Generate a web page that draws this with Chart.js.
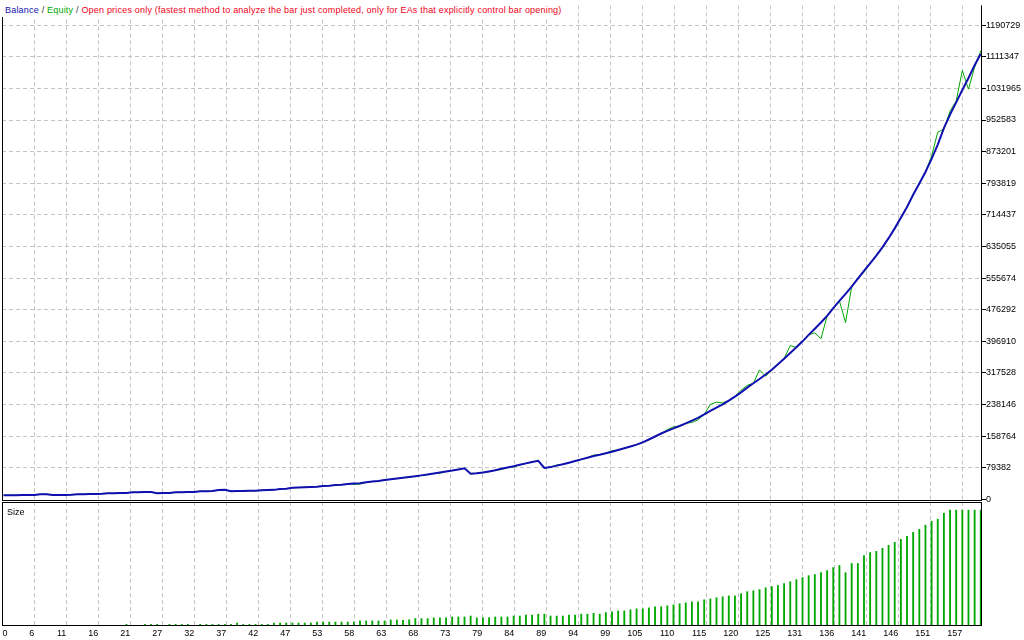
<!DOCTYPE html>
<html>
<head>
<meta charset="utf-8">
<title>Balance / Equity</title>
<script src="https://cdn.jsdelivr.net/npm/chart.js@4.4.1/dist/chart.umd.min.js"></script>
<style>
  html, body { margin: 0; padding: 0; background: #fff; }
  #wrap { position: relative; width: 1024px; height: 640px; overflow: hidden;
          font-family: "Liberation Sans", Arial, sans-serif; font-size: 9px; }
  #wrap canvas { position: absolute; left: 0; top: 0; }
  #title { position: absolute; left: 0; top: 0; height: 17px; box-sizing: border-box; letter-spacing: 0.2px;
           padding: 5px 6px 0 5px; line-height: 10px; background: #fff; white-space: nowrap; z-index: 2; }
  #sizeLabel { position: absolute; left: 7px; top: 507px; line-height: 10px; color: #000; z-index: 2; }
  .bal { color: #1010b0; } .eq { color: #00a800; } .sep { color: #333; } .mode { color: #f00020; }
</style>
</head>
<body>
<div id="wrap">
  <canvas id="balanceChart" width="1024" height="640"></canvas>
  <canvas id="sizeChart" width="1024" height="640"></canvas>
  <div id="title"><span class="bal">Balance</span><span class="sep"> / </span><span class="eq">Equity</span><span class="sep"> / </span><span class="mode">Open prices only (fastest method to analyze the bar just completed, only for EAs that explicitly control bar opening)</span></div>
  <div id="sizeLabel">Size</div>
</div>
<script>
// balance after each trade (trade 1..160)
var balance = [
  10000, 10150, 10300, 10450, 10600, 10750, 12600, 12800, 10600, 10800,
  11000, 11200, 12400, 12700, 13000, 13300, 13600, 15000, 15300, 15600,
  15900, 17400, 17700, 18000, 18300, 15300, 15600, 15900, 17600, 17900,
  18200, 18500, 20000, 20400, 20800, 23300, 23700, 20200, 20500, 20800,
  21100, 21400, 22600, 23100, 23600, 25800, 26600, 28800, 29500, 30200,
  30900, 31600, 33200, 34000, 35600, 36400, 38500, 39500, 40500, 42500,
  44500, 46000, 48500, 50200, 52000, 54000, 55800, 57800, 60000, 62300,
  64800, 67200, 69800, 72200, 75000, 77800, 64000, 65400, 67500, 70000,
  72800, 76500, 79800, 83000, 86800, 90200, 93800, 96500, 78500, 80800,
  84500, 87800, 91800, 96000, 100200, 104500, 108800, 112000, 115700, 119400,
  123600, 128000, 132600, 137200, 142900, 150100, 157600, 165100, 171600, 178000,
  184100, 190700, 197400, 204500, 213100, 222200, 229900, 238300, 247900, 258000,
  268600, 280300, 291500, 302100, 313400, 325200, 338900, 353100, 367200, 381700,
  396700, 413000, 428400, 444000, 460700, 480100, 498300, 515800, 534000, 554300,
  573800, 592500, 612000, 632600, 655800, 680400, 707000, 734000, 765000, 793000,
  822000, 855000, 891000, 932000, 966000, 997000, 1028000, 1058000, 1090000, 1119000
];

// equity at the same points
var equity = [
  10000, 10150, 10300, 10450, 10600, 10750, 12600, 12800, 10600, 10800,
  11000, 11200, 12400, 12700, 13000, 13300, 13600, 15000, 15300, 15600,
  15900, 17400, 17700, 18000, 18300, 15300, 15600, 15900, 17600, 17900,
  18200, 18500, 20000, 20400, 20800, 23300, 23700, 20200, 20500, 20800,
  21100, 21400, 22600, 23100, 23600, 25800, 26600, 28800, 29500, 30200,
  30900, 31600, 33200, 34000, 35600, 36400, 38500, 37600, 38000, 42500,
  44500, 46000, 48500, 50200, 52000, 54000, 55800, 57800, 60000, 62300,
  64800, 65500, 69800, 72200, 75000, 77800, 64000, 65400, 67500, 70000,
  72800, 74800, 79800, 81000, 86800, 90200, 93800, 96500, 78500, 80800,
  86000, 87800, 91800, 96000, 100200, 104500, 110800, 112000, 115700, 122000,
  123600, 128000, 132600, 137200, 142900, 150100, 157600, 165100, 175000, 182000,
  184100, 190700, 193000, 199500, 213100, 238000, 244000, 242000, 247900, 258000,
  274000, 286000, 291500, 325000, 309000, 325200, 338900, 353100, 386000, 381700,
  396700, 413000, 418000, 403000, 460700, 480100, 498300, 444000, 534000, 554300,
  570000, 592500, 612000, 632600, 655800, 680400, 707000, 734000, 765000, 793000,
  822000, 862000, 922000, 930000, 975000, 1000000, 1077000, 1030000, 1085000, 1126000
];

// lot size of each trade
var lotSize = [
  0.1, 0.1, 0.1, 0.1, 0.1, 0.1, 0.1, 0.1, 0.1, 0.1,
  0.1, 0.1, 0.1, 0.1, 0.1, 0.1, 0.1, 0.1, 0.1, 0.1,
  0.7, 0.2, 0.2, 0.7, 0.7, 0.7, 0.2, 0.7, 0.7, 0.7,
  0.7, 0.2, 0.7, 0.7, 0.7, 0.7, 0.7, 0.7, 1.3, 0.7,
  0.7, 0.7, 0.7, 0.7, 1.3, 1.3, 1.3, 1.3, 1.3, 1.3,
  1.3, 1.7, 1.7, 1.7, 1.7, 1.7, 1.7, 1.7, 2.2, 2.2,
  2.2, 2.2, 2.2, 2.6, 2.6, 2.5, 2.7, 3.2, 3.2, 3.2,
  3.5, 3.5, 3.5, 3.9, 3.9, 3.9, 4.3, 3.5, 3.5, 3.6,
  3.9, 3.9, 3.9, 4.3, 4.3, 4.7, 4.7, 5.1, 5.1, 4.3,
  4.3, 4.3, 4.7, 4.7, 5.1, 5.1, 5.5, 5.1, 5.8, 6.1,
  6.5, 6.5, 7.0, 7.4, 7.4, 7.8, 8.3, 8.3, 8.7, 9.1,
  9.6, 10.0, 10.4, 10.4, 11.3, 11.7, 12.2, 12.6, 13.0, 13.0,
  13.9, 14.8, 15.2, 15.7, 16.5, 17.0, 17.4, 18.3, 19.1, 20.0,
  20.9, 21.7, 22.2, 23.0, 23.9, 25.2, 26.1, 23.0, 27.0, 27.0,
  30.4, 31.7, 32.2, 33.5, 34.8, 36.1, 37.4, 38.7, 40.4, 41.7,
  43.5, 45.2, 46.1, 48.7, 50.0, 50.0, 50.0, 50.0, 50.0, 50.0
];

var xTickLabels = ['0', '6', '11', '16', '21', '27', '32', '37', '42', '47', '53', '58', '63', '68', '73',
  '79', '84', '89', '94', '99', '105', '110', '115', '120', '125', '131', '136', '141', '146', '151', '157'];
var yTickLabels = [0, 79382, 158764, 238146, 317528, 396910, 476292, 555674, 635055, 714437,
  793819, 873201, 952583, 1031965, 1111347, 1190729];

// axis ranges
var xMin = 0.75, xMax = 160.2;
var xZeroTick = 1.64, xGridStart = 6.0, xGridStep = 5.207;
var yMin = -4350, yMax = 1240450;
var sizeMax = 53.5;

var blue = '#1010b0', green = '#00a800', gridColor = '#c4c4c4';
var font = { family: '"Liberation Sans", Arial, sans-serif', size: 9 };

var trades = balance.map(function (v, i) { return i + 1; });
function points(values) {
  return values.map(function (v, i) { return { x: trades[i], y: v }; });
}

function xTickValues() {
  var vals = [xZeroTick];
  for (var k = 0; k < xTickLabels.length - 1; k++) vals.push(xGridStart + k * xGridStep);
  return vals;
}

function xAxis(showLabels) {
  return {
    type: 'linear', min: xMin, max: xMax, bounds: 'data', offset: false,
    afterBuildTicks: function (s) { s.ticks = xTickValues().map(function (v) { return { value: v }; }); },
    afterFit: function (s) { s.height = showLabels ? 14 : 0; },
    ticks: {
      display: showLabels, autoSkip: false, maxRotation: 0, align: 'end', padding: 2,
      color: '#000', font: font,
      callback: function (v, i) { return xTickLabels[i]; }
    },
    grid: {
      color: function (c) { return c.index === 0 ? 'rgba(0,0,0,0)' : gridColor; },
      drawTicks: false, offset: false
    },
    border: { display: false, dash: [4, 3] }
  };
}

// black frame round the plot area
var frame = {
  id: 'frame',
  afterDraw: function (chart, args, opts) {
    var a = chart.chartArea, c = chart.ctx;
    c.save();
    c.strokeStyle = '#000';
    c.lineWidth = 1;
    c.beginPath();
    if (opts.top) { c.moveTo(a.left, a.top + 0.5); c.lineTo(a.right, a.top + 0.5); }
    c.moveTo(a.left + 0.5, a.top); c.lineTo(a.left + 0.5, a.bottom);
    c.moveTo(a.right - 0.5, a.top); c.lineTo(a.right - 0.5, a.bottom);
    c.moveTo(a.left, a.bottom - 0.5); c.lineTo(a.right, a.bottom - 0.5);
    c.stroke();
    c.restore();
  }
};

var balanceChart = new Chart(document.getElementById('balanceChart'), {
  type: 'line',
  data: {
    datasets: [{
      label: 'Balance', data: points(balance), borderColor: blue, borderWidth: 2,
      pointRadius: 0, tension: 0, order: 0
    }, {
      label: 'Equity', data: points(equity), borderColor: green, borderWidth: 1,
      pointRadius: 0, tension: 0, order: 1
    }]
  },
  options: {
    responsive: false, animation: false, devicePixelRatio: 1,
    layout: { padding: { left: 2, top: 0, right: 0, bottom: 139 } },
    plugins: { legend: { display: false }, tooltip: { enabled: false }, frame: { top: false } },
    scales: {
      x: xAxis(false),
      y: {
        type: 'linear', position: 'right', min: yMin, max: yMax, bounds: 'data',
        afterBuildTicks: function (s) { s.ticks = yTickLabels.map(function (v) { return { value: v }; }); },
        afterFit: function (s) { s.width = 42; },
        ticks: { color: '#000', font: font, padding: 0, callback: function (v) { return String(v); } },
        grid: {
          color: function (c) { return c.tick && c.tick.value === 0 ? 'rgba(0,0,0,0)' : gridColor; },
          tickColor: '#000', tickLength: 4, tickBorderDash: []
        },
        border: { display: false, dash: [4, 3] }
      }
    }
  },
  plugins: [frame]
});

var sizeChart = new Chart(document.getElementById('sizeChart'), {
  type: 'bar',
  data: {
    datasets: [{
      label: 'Size', data: points(lotSize), backgroundColor: green,
      barThickness: 1.2, maxBarThickness: 1.2, borderWidth: 0
    }]
  },
  options: {
    responsive: false, animation: false, devicePixelRatio: 1,
    layout: { padding: { left: 2, top: 502, right: 42, bottom: 0 } },
    plugins: { legend: { display: false }, tooltip: { enabled: false }, frame: { top: true } },
    scales: {
      x: xAxis(true),
      y: { type: 'linear', display: false, min: 0, max: sizeMax }
    }
  },
  plugins: [frame]
});
</script>
</body>
</html>
